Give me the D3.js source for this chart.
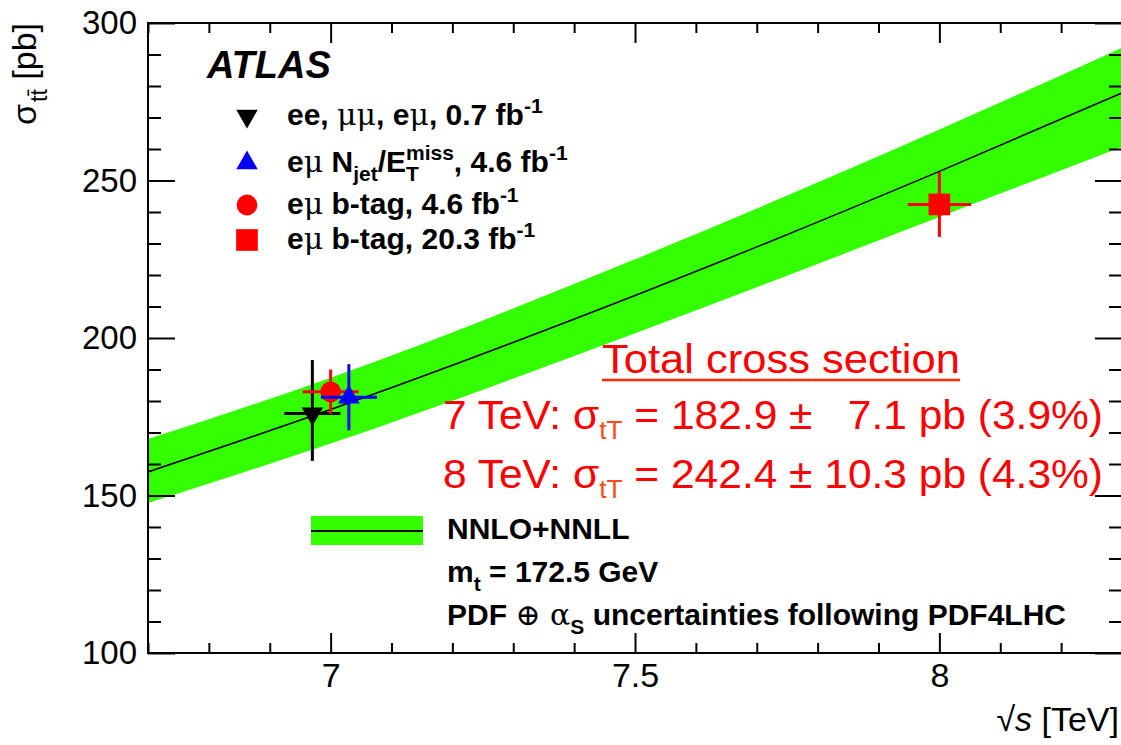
<!DOCTYPE html>
<html>
<head>
<meta charset="utf-8">
<script src="https://cdn.jsdelivr.net/npm/d3@7"></script>
<style>
  body { margin: 0; background: #fff; }
  svg { display: block; }
  text { font-family: "Liberation Sans", Arial, sans-serif; }
</style>
</head>
<body>
<div id="plot"></div>
<script>
// Theory band NNLO+NNLL
const bandEnergy  = [6.7, 7.0, 7.5, 8.0, 8.3];
const bandCentral = [157.5, 177.3, 213.5, 252.9, 277.8];
const bandUp      = [167.9, 187.4, 225.0, 266.2, 292.1];
const bandDown    = [147.6, 166.5, 201.5, 238.4, 260.7];

// Measurements, legend order
const measEnergy  = [6.97, 7.03, 7.0, 8.0];
const measXsec    = [176.0, 181.2, 182.9, 242.4];
const measErrUp   = [17.0, 10.5, 7.1, 10.3];
const measErrDown = [15.0, 10.5, 7.1, 10.3];
const measXErr    = [0.046, 0.046, 0.046, 0.052];
const measColors  = ["#000000", "#0000ff", "#ff0000", "#ff0000"];
const measShapes  = ["triangleDown", "triangleUp", "circle", "square"];

// Tick values
const xMajorTicks = [7, 7.5, 8];
const yMajorTicks = [100, 150, 200, 250, 300];

const width = 1121, height = 745;
const pLeft = 148, pRight = 1122, pTop = 23, pBottom = 653;

const svg = d3.select("#plot").append("svg")
  .attr("width", width).attr("height", height);
svg.append("rect").attr("width", width).attr("height", height).attr("fill", "#fff");

const x = d3.scaleLinear().domain([6.7, 8.3]).range([pLeft, pRight]);
const y = d3.scaleLinear().domain([100, 300]).range([pBottom, pTop]);

// clip for the band
svg.append("clipPath").attr("id", "frame")
  .append("rect").attr("x", pLeft).attr("y", pTop)
  .attr("width", pRight - pLeft).attr("height", pBottom - pTop);

const idx = d3.range(bandEnergy.length);
const area = d3.area()
  .x(i => x(bandEnergy[i]))
  .y0(i => y(bandDown[i]))
  .y1(i => y(bandUp[i]))
  .curve(d3.curveMonotoneX);
const line = d3.line()
  .x(i => x(bandEnergy[i]))
  .y(i => y(bandCentral[i]))
  .curve(d3.curveMonotoneX);

const plot = svg.append("g").attr("clip-path", "url(#frame)");
plot.append("path").attr("d", area(idx)).attr("fill", "#33ff00");
plot.append("path").attr("d", line(idx)).attr("fill", "none")
  .attr("stroke", "#000").attr("stroke-width", 1.6);

// axes
const xMinor = d3.range(6.7, 8.31, 0.1).map(v => +v.toFixed(1)).filter(v => !xMajorTicks.includes(v));
const yMinor = d3.range(100, 301, 10).filter(v => !yMajorTicks.includes(v));

function styleAxis(g) {
  g.select(".domain").remove();
  g.selectAll(".tick line").attr("stroke", "#000").attr("stroke-width", 2);
  g.selectAll("text").attr("fill", "#000")
    .style("font-family", "'Liberation Sans', Arial, sans-serif");
}

svg.append("g").attr("transform", `translate(${pLeft},0)`)
  .call(d3.axisLeft(y).tickValues(yMajorTicks).tickSize(-27).tickPadding(11))
  .call(styleAxis)
  .selectAll("text").attr("font-size", 33);
svg.append("g").attr("transform", `translate(${pLeft},0)`)
  .call(d3.axisLeft(y).tickValues(yMinor).tickSize(-13).tickFormat(""))
  .call(styleAxis);
svg.append("g").attr("transform", `translate(${pRight},0)`)
  .call(d3.axisRight(y).tickValues(yMajorTicks).tickSize(-27).tickFormat(""))
  .call(styleAxis);
svg.append("g").attr("transform", `translate(${pRight},0)`)
  .call(d3.axisRight(y).tickValues(yMinor).tickSize(-13).tickFormat(""))
  .call(styleAxis);

svg.append("g").attr("transform", `translate(0,${pBottom})`)
  .call(d3.axisBottom(x).tickValues(xMajorTicks).tickSize(-20).tickPadding(10).tickFormat(d3.format("")))
  .call(styleAxis)
  .selectAll("text").attr("font-size", 34);
svg.append("g").attr("transform", `translate(0,${pBottom})`)
  .call(d3.axisBottom(x).tickValues(xMinor).tickSize(-10).tickFormat(""))
  .call(styleAxis);
svg.append("g").attr("transform", `translate(0,${pTop})`)
  .call(d3.axisTop(x).tickValues(xMajorTicks).tickSize(-20).tickFormat(""))
  .call(styleAxis);
svg.append("g").attr("transform", `translate(0,${pTop})`)
  .call(d3.axisTop(x).tickValues(xMinor).tickSize(-10).tickFormat(""))
  .call(styleAxis);

svg.append("rect").attr("x", pLeft).attr("y", pTop)
  .attr("width", pRight - pLeft).attr("height", pBottom - pTop)
  .attr("fill", "none").attr("stroke", "#000").attr("stroke-width", 2);

// axis titles
const yTitle = svg.append("text")
  .attr("transform", `translate(36,${pTop}) rotate(-90)`)
  .attr("text-anchor", "end").attr("font-size", 34);
yTitle.append("tspan").text("σ");
yTitle.append("tspan").attr("font-size", 23).attr("dy", 11).attr("dx", 2).text("tt\u0304");
yTitle.append("tspan").attr("dy", -11).text(" [pb]");

const xTitle = svg.append("text")
  .attr("x", 1119).attr("y", 731).attr("text-anchor", "end").attr("font-size", 34);
xTitle.append("tspan").text("√");
xTitle.append("tspan").attr("font-style", "italic").text("s");
xTitle.append("tspan").text(" [TeV]");

// symbols
function symbolPath(shape, size) {
  const s = shape === "circle" ? d3.symbolCircle
    : shape === "square" ? d3.symbolSquare : d3.symbolTriangle;
  return d3.symbol(s, size)();
}
const symbolSize = { triangleDown: 200, triangleUp: 200, circle: 340, square: 470 };
function drawMarker(g, cx, cy, i) {
  g.append("path")
    .attr("d", symbolPath(measShapes[i], symbolSize[measShapes[i]]))
    .attr("transform", `translate(${cx},${cy})` + (measShapes[i] === "triangleDown" ? " rotate(180)" : ""))
    .attr("fill", measColors[i]);
}

// data points (drawing order: black, red circle, blue, red square)
const points = svg.append("g");
[0, 2, 1, 3].forEach(i => {
  const cx = x(measEnergy[i]), cy = y(measXsec[i]);
  points.append("line")
    .attr("x1", cx).attr("x2", cx)
    .attr("y1", y(measXsec[i] + measErrUp[i])).attr("y2", y(measXsec[i] - measErrDown[i]))
    .attr("stroke", measColors[i]).attr("stroke-width", 3);
  points.append("line")
    .attr("x1", x(measEnergy[i] - measXErr[i])).attr("x2", x(measEnergy[i] + measXErr[i]))
    .attr("y1", cy).attr("y2", cy)
    .attr("stroke", measColors[i]).attr("stroke-width", 3);
  drawMarker(points, cx, cy, i);
});

// ATLAS label
svg.append("text").attr("x", 207).attr("y", 78)
  .attr("font-size", 38).attr("font-weight", "bold").attr("font-style", "italic")
  .text("ATLAS");

// legend
const legendRows = [
  [["ee, ", "b"], ["μμ", "n"], [", e", "b"], ["μ", "n"], [", 0.7 fb", "b"], ["-1", "sup"]],
  [["e", "b"], ["μ", "n"], [" N", "b"], ["jet", "sub"], ["/E", "b"], ["T", "sub"], ["miss", "supback"], [", 4.6 fb", "b"], ["-1", "sup"]],
  [["e", "b"], ["μ", "n"], [" b-tag, 4.6 fb", "b"], ["-1", "sup"]],
  [["e", "b"], ["μ", "n"], [" b-tag, 20.3 fb", "b"], ["-1", "sup"]]
];
const legendY = [116, 163, 205, 240];
const legendFont = 30;

function richText(g, tx, ty, segs, size) {
  const t = g.append("text").attr("x", tx).attr("y", ty)
    .attr("font-size", size).attr("font-weight", "bold");
  let shift = 0;
  segs.forEach(([str, kind]) => {
    const sp = t.append("tspan").text(str);
    let target = 0;
    if (kind === "n") sp.attr("font-weight", "normal").attr("font-family", "'DejaVu Serif', serif");
    if (kind === "sub") { target = 0.3 * size; sp.attr("font-size", size * 0.7); }
    if (kind === "sup") { target = -0.4 * size; sp.attr("font-size", size * 0.7); }
    if (kind === "supback") { target = -0.4 * size; sp.attr("font-size", size * 0.7).attr("dx", -0.43 * size); }
    if (target !== shift) { sp.attr("dy", target - shift); shift = target; }
  });
  return t;
}

const legend = svg.append("g");
legendRows.forEach((row, i) => {
  drawMarker(legend, 247, legendY[i], i);
  richText(legend, 287, legendY[i] + 9, row, legendFont);
});

// theory legend
legend.append("rect").attr("x", 311).attr("y", 516).attr("width", 112).attr("height", 29)
  .attr("fill", "#33ff00");
legend.append("line").attr("x1", 311).attr("x2", 423).attr("y1", 531).attr("y2", 531)
  .attr("stroke", "#000").attr("stroke-width", 2);
richText(legend, 447, 539, [["NNLO+NNLL", "b"]], legendFont);
richText(legend, 447, 582, [["m", "b"], ["t", "sub"], [" = 172.5 GeV", "b"]], legendFont);
richText(legend, 447, 625, [["PDF ", "b"], ["⊕ ", "n"], ["α", "n"], ["S", "sub"], [" uncertainties following PDF4LHC", "b"]], legendFont);

// red annotation: Calibri-like text, squeezed horizontally to the reference width
const note = svg.append("g").style("font-family", "Lato, 'Open Sans', sans-serif")
  .attr("fill", "#ff0000");

function squeeze(t, x0, ty, x1) {
  const w = t.node().getComputedTextLength();
  t.attr("transform", `translate(${x0},${ty}) scale(${(x1 - x0) / w},1)`);
}

const noteTitle = note.append("text").attr("font-size", 41).text("Total cross section");
squeeze(noteTitle, 602, 373, 960);
note.append("line").attr("x1", 602).attr("x2", 960).attr("y1", 380).attr("y2", 380)
  .attr("stroke", "#ff2a00").attr("stroke-width", 2.5);

function noteLine(ty, head, rest) {
  const t = note.append("text").attr("font-size", 41);
  t.append("tspan").text(head);
  t.append("tspan").attr("font-size", "0.62em").attr("dy", 10).attr("fill", "#ff4a14").text("tT");
  t.append("tspan").attr("dy", -10).text(rest);
  squeeze(t, 443, ty, 1103);
}
noteLine(429, "7 TeV: σ", " = 182.9 ±\u00a0\u00a0\u00a07.1 pb (3.9%)");
noteLine(488, "8 TeV: σ", " = 242.4 ± 10.3 pb (4.3%)");
</script>
</body>
</html>
